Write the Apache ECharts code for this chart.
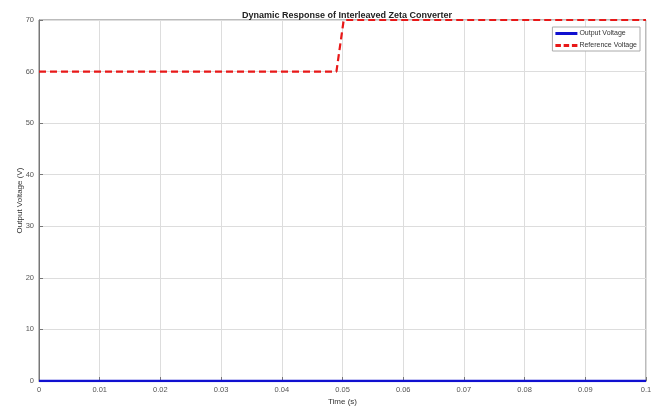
<!DOCTYPE html>
<html>
<head>
<meta charset="utf-8">
<script src="https://cdn.jsdelivr.net/npm/echarts@6/dist/echarts.min.js"></script>
<style>html,body{margin:0;padding:0;background:#fff}#c{width:652px;height:406px}</style>
</head>
<body>
<div id="c"></div>
<script>
const titleText = "Dynamic Response of Interleaved Zeta Converter";
const xTicks = [0,0.01,0.02,0.03,0.04,0.05,0.06,0.07,0.08,0.09,0.1];
const outputTime = [0, 0.1];
const outputVoltage = [0, 0];
const refTime = [0, 0.049, 0.0502, 0.1];
const refVoltage = [60, 60, 70, 70];

const chart = echarts.init(document.getElementById('c'), null, {renderer:'canvas'});
const font = 'Liberation Sans, Arial, sans-serif';
chart.setOption({
  animation:false,
  backgroundColor:'#fff',
  title:{text:titleText,left:342,textAlign:'center',top:6,
    textStyle:{fontSize:9,fontWeight:'bold',color:'#222',fontFamily:font}},
  grid:{left:39,right:6,top:20,bottom:25,containLabel:false,outerBoundsMode:'none',
    show:true,borderColor:'#777',borderWidth:1},
  legend:{right:12,top:27,orient:'vertical',itemWidth:22,itemHeight:3,itemGap:5,symbolKeepAspect:false,
    backgroundColor:'#fff',borderColor:'#aaa',borderWidth:1,borderRadius:0,padding:[3,3,2,3],
    textStyle:{fontSize:7,color:'#333',fontFamily:font,padding:[0,0,0,-3]},
    data:[
      {name:'Output Voltage',icon:'path://M0,0h24v2.4h-24z'},
      {name:'Reference Voltage',icon:'path://M0,0h6v2.4h-6z M9,0h6v2.4h-6z M18,0h6v2.4h-6z'}
    ]},
  xAxis:{type:'value',min:0,max:0.1,interval:0.01,name:'Time (s)',nameLocation:'middle',nameGap:17,
    nameMoveOverlap:false,
    nameTextStyle:{fontSize:8,color:'#333',fontFamily:font},
    axisLine:{lineStyle:{color:'#777'}},axisTick:{inside:true,length:4,lineStyle:{color:'#777'}},
    axisLabel:{fontSize:7.5,color:'#555',margin:5,fontFamily:font,formatter:v=>String(+v.toFixed(2))},
    splitLine:{show:true,lineStyle:{color:'#ddd',width:1}}},
  yAxis:{type:'value',min:0,max:70,interval:10,name:'Output Voltage (V)',nameLocation:'middle',nameGap:15,
    nameMoveOverlap:false,
    nameTextStyle:{fontSize:8,color:'#333',fontFamily:font},
    axisLine:{show:true,lineStyle:{color:'#777'}},axisTick:{show:true,inside:true,length:4,lineStyle:{color:'#777'}},
    axisLabel:{fontSize:7.5,color:'#555',margin:5,fontFamily:font},
    splitLine:{show:true,lineStyle:{color:'#ddd',width:1}}},
  series:[
    {name:'Output Voltage',type:'line',symbol:'none',color:'#1010d0',
      lineStyle:{width:2.5,color:'#1010d0'},
      data:outputTime.map((t,i)=>[t,outputVoltage[i]]),z:3},
    {name:'Reference Voltage',type:'line',symbol:'none',color:'#e81818',
      lineStyle:{width:2.2,color:'#e81818',type:[7,4]},
      data:refTime.map((t,i)=>[t,refVoltage[i]]),z:4}
  ]
});
</script>
</body>
</html>
